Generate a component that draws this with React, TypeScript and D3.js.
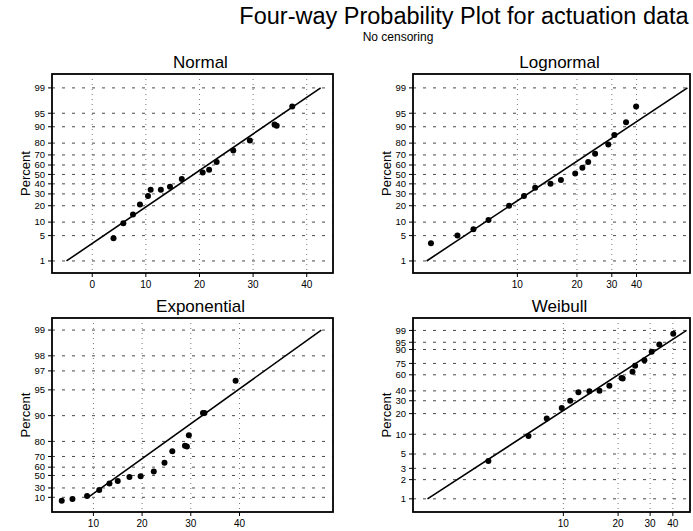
import * as d3 from 'd3'

// percent ticks on the probability axes
const normalPctTicks = [1, 5, 10, 20, 30, 40, 50, 60, 70, 80, 90, 95, 99]
const expPctTicks = [10, 30, 50, 60, 70, 80, 90, 95, 97, 98, 99]
const weibullPctTicks = [1, 2, 3, 5, 10, 20, 30, 40, 60, 75, 90, 95, 99]
const normalXTicks = [0, 10, 20, 30, 40]
const otherXTicks = [10, 20, 30, 40]

// points (time, percent)
const normalX = [3.97, 5.8, 7.6, 8.9, 10.4, 10.9, 12.8, 14.5, 16.7, 20.6, 21.8, 23.2, 26.3, 29.4, 34.0, 34.4, 37.3]
const normalP = [4.3, 9.5, 14, 21, 28, 34, 34, 37, 45, 52, 55, 63, 74, 82, 91, 90.5, 96.6]

const lognormX = [3.66, 4.98, 6.0, 7.15, 9.08, 10.8, 12.3, 14.7, 16.6, 19.6, 21.3, 22.8, 24.7, 28.8, 30.9, 35.4, 39.8]
const lognormP = [3.2, 5, 7, 11, 20, 28, 36, 40, 44, 51, 57, 63, 71, 79, 85.5, 92, 96.6]

const expX = [3.5, 5.7, 8.7, 11.2, 13.3, 15.0, 17.4, 19.7, 22.4, 24.6, 26.2, 28.8, 29.2, 29.6, 32.5, 32.8, 39.2]
const expP = [1.5, 5.5, 13, 26, 38, 42, 48, 49, 55, 64.5, 74, 77.5, 77, 83, 90.7, 90.7, 96.1]

const weibullX = [3.87, 6.43, 8.1, 9.8, 10.9, 12.1, 13.9, 15.8, 17.9, 20.9, 21.2, 24.0, 24.8, 27.9, 30.6, 33.7, 40.2]
const weibullP = [3.9, 9.45, 17, 24, 30, 38.5, 39.6, 40, 46, 55.8, 55, 64, 72, 79, 88, 93.7, 98.3]

// fitted line end points (time, percent)
const normalFit = [[-4.8, 1], [42.6, 99]]
const lognormFit = [[3.48, 1], [72.3, 99]]
const expFit = [[8.7, 8], [56.8, 99]]
const weibullFit = [[1.79, 1], [47.6, 99]]

// inverse normal cdf (Acklam)
function probit(p: number) {
  const a = [-39.69683028665376, 220.9460984245205, -275.9285104469687, 138.357751867269, -30.66479806614716, 2.506628277459239]
  const b = [-54.47609879822406, 161.5858368580409, -155.6989798598866, 66.80131188771972, -13.28068155288572]
  const c = [-0.007784894002430293, -0.3223964580411365, -2.400758277161838, -2.549732539343734, 4.374664141464968, 2.938163982698783]
  const d = [0.007784695709041462, 0.3224671290700398, 2.445134137142996, 3.754408661907416]
  const pl = 0.02425
  if (p < pl) {
    const q = Math.sqrt(-2 * Math.log(p))
    return (((((c[0] * q + c[1]) * q + c[2]) * q + c[3]) * q + c[4]) * q + c[5]) / ((((d[0] * q + d[1]) * q + d[2]) * q + d[3]) * q + 1)
  }
  if (p > 1 - pl) {
    const q = Math.sqrt(-2 * Math.log(1 - p))
    return -(((((c[0] * q + c[1]) * q + c[2]) * q + c[3]) * q + c[4]) * q + c[5]) / ((((d[0] * q + d[1]) * q + d[2]) * q + d[3]) * q + 1)
  }
  const q = p - 0.5
  const r = q * q
  return (((((a[0] * r + a[1]) * r + a[2]) * r + a[3]) * r + a[4]) * r + a[5]) * q / (((((b[0] * r + b[1]) * r + b[2]) * r + b[3]) * r + b[4]) * r + 1)
}

const zNormal = (p: number) => probit(p / 100)
const zExp = (p: number) => -Math.log(1 - p / 100)
const zWeibull = (p: number) => Math.log(-Math.log(1 - p / 100))

const FONT = 'Arial, "Liberation Sans", Helvetica, sans-serif'

interface PanelProps {
  title: string
  x0: number
  x1: number
  y0: number
  y1: number
  x: (v: number) => number
  y: (p: number) => number
  pctTicks: number[]
  xTicks: number[]
  xs: number[]
  ps: number[]
  fit: number[][]
}

function Panel({ title, x0, x1, y0, y1, x, y, pctTicks, xTicks, xs, ps, fit }: PanelProps) {
  const line = d3.line<number[]>().x(d => x(d[0])).y(d => y(d[1]))
  return (
    <g>
      <text x={(x0 + x1) / 2 + 8} y={y0 - 6} textAnchor="middle" fontSize={17} fontFamily={FONT}>{title}</text>
      {/* grid */}
      {pctTicks.map(p => (
        <line key={'h' + p} x1={x0} x2={x1} y1={y(p)} y2={y(p)} stroke="#333" strokeWidth={0.9} strokeDasharray="3,7" />
      ))}
      {xTicks.map(v => (
        <line key={'v' + v} x1={x(v)} x2={x(v)} y1={y0} y2={y1} stroke="#555" strokeWidth={0.8} strokeDasharray="1,4" />
      ))}
      {/* y axis */}
      {pctTicks.map(p => (
        <g key={'yt' + p}>
          <line x1={x0 - 4} x2={x0} y1={y(p)} y2={y(p)} stroke="#000" strokeWidth={1} />
          <text x={x0 - 7} y={y(p)} dy="0.35em" textAnchor="end" fontSize={9.5} fontFamily={FONT}>{p}</text>
        </g>
      ))}
      {xTicks.map(v => (
        <g key={'xt' + v}>
          <line x1={x(v)} x2={x(v)} y1={y1} y2={y1 + 4} stroke="#000" strokeWidth={1} />
          <text x={x(v)} y={y1 + 15} textAnchor="middle" fontSize={10} fontFamily={FONT}>{v}</text>
        </g>
      ))}
      <text transform={`translate(${x0 - 22},${(y0 + y1) / 2}) rotate(-90)`} textAnchor="middle" fontSize={13} fontFamily={FONT}>Percent</text>
      {/* fit and points */}
      <path d={line(fit) || ''} fill="none" stroke="#000" strokeWidth={1.6} />
      {xs.map((v, i) => (
        <circle key={'p' + i} cx={x(v)} cy={y(ps[i])} r={3} fill="#000" />
      ))}
      <rect x={x0} y={y0} width={x1 - x0} height={y1 - y0} fill="none" stroke="#000" strokeWidth={1.8} />
    </g>
  )
}

export default function App() {
  const tL = 52, tR = 333, rL = 413, rR = 690
  const topY0 = 74, topY1 = 273
  const botY0 = 318, botY1 = 512

  const xNormal = d3.scaleLinear().domain([-7.5, 44.9]).range([tL, tR])
  const xLognorm = d3.scaleLog().domain([2.97, 74.5]).range([rL, rR])
  const xExp = d3.scaleLinear().domain([1.5, 59.2]).range([tL, tR])
  const xWeibull = d3.scaleLog().domain([1.49, 49.7]).range([rL, rR])

  const yTop = d3.scaleLinear().domain([-2.65, 2.7]).range([topY1, topY0])
  const yExp = d3.scaleLinear().domain([-0.29, 4.93]).range([botY1, botY0])
  const yWeib = d3.scaleLinear().domain([-5.08, 1.98]).range([botY1, botY0])

  return (
    <svg width={693} height={531} style={{ position: 'absolute', left: 0, top: 0, background: '#fff' }}>
      <text x={464} y={24} textAnchor="middle" fontSize={23.5} fontFamily={FONT}>Four-way Probability Plot for actuation data</text>
      <text x={398} y={41} textAnchor="middle" fontSize={12} fontFamily={FONT}>No censoring</text>
      <Panel title="Normal" x0={tL} x1={tR} y0={topY0} y1={topY1} x={xNormal} y={p => yTop(zNormal(p))}
        pctTicks={normalPctTicks} xTicks={normalXTicks} xs={normalX} ps={normalP} fit={normalFit} />
      <Panel title="Lognormal" x0={rL} x1={rR} y0={topY0} y1={topY1} x={xLognorm} y={p => yTop(zNormal(p))}
        pctTicks={normalPctTicks} xTicks={otherXTicks} xs={lognormX} ps={lognormP} fit={lognormFit} />
      <Panel title="Exponential" x0={tL} x1={tR} y0={botY0} y1={botY1} x={xExp} y={p => yExp(zExp(p))}
        pctTicks={expPctTicks} xTicks={otherXTicks} xs={expX} ps={expP} fit={expFit} />
      <Panel title="Weibull" x0={rL} x1={rR} y0={botY0} y1={botY1} x={xWeibull} y={p => yWeib(zWeibull(p))}
        pctTicks={weibullPctTicks} xTicks={otherXTicks} xs={weibullX} ps={weibullP} fit={weibullFit} />
    </svg>
  )
}
